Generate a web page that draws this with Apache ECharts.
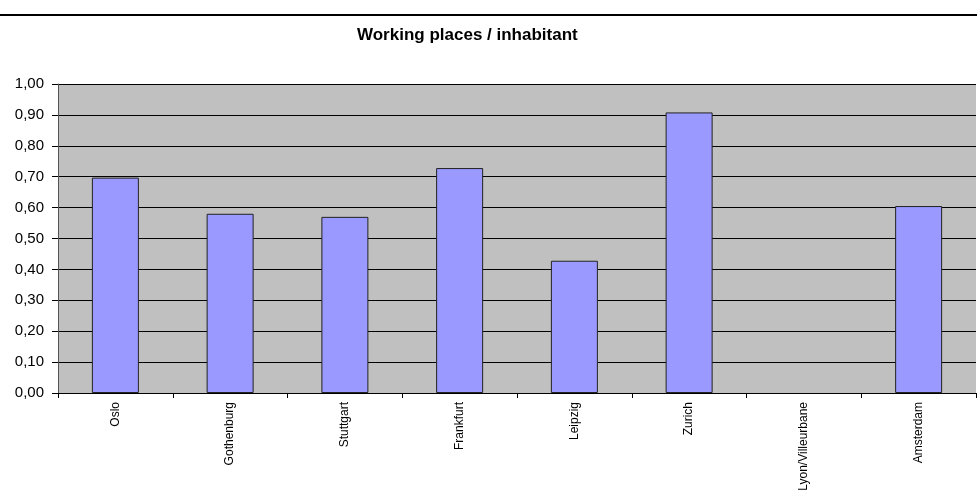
<!DOCTYPE html>
<html>
<head>
<meta charset="utf-8">
<script src="https://cdn.jsdelivr.net/npm/echarts@6/dist/echarts.min.js"></script>
<style>
  html, body { margin: 0; padding: 0; background: #fff; }
  #chart { width: 977px; height: 490px; }
</style>
</head>
<body>
<div id="chart"></div>
<script>
var cities = ['Oslo', 'Gothenburg', 'Stuttgart', 'Frankfurt', 'Leipzig', 'Zurich', 'Lyon/Villeurbane', 'Amsterdam'];
var placesPerInhabitant = [0.697, 0.58, 0.57, 0.728, 0.428, 0.908, null, 0.605];
var yTicks = [0, 0.1, 0.2, 0.3, 0.4, 0.5, 0.6, 0.7, 0.8, 0.9, 1.0];

var chart = echarts.init(document.getElementById('chart'));

// comma as decimal separator, like the original
function fmt(v) {
  return v.toFixed(2).replace('.', ',');
}

chart.setOption({
  animation: false,
  backgroundColor: '#fff',
  textStyle: { fontFamily: 'Liberation Sans, Arial, sans-serif' },
  title: {
    text: 'Working places / inhabitant',
    left: 352,
    top: 22,
    textStyle: { fontSize: 17, fontWeight: 'bold', color: '#000', fontFamily: 'Liberation Sans, Arial, sans-serif' }
  },
  graphic: [{
    type: 'line',
    shape: { x1: 0, y1: 15, x2: 977, y2: 15 },
    style: { stroke: '#000', lineWidth: 2 }
  }],
  grid: {
    left: 58,
    right: 1,
    top: 84,
    bottom: 97,
    outerBoundsMode: 'none',
    containLabel: false,
    show: true,
    backgroundColor: '#C0C0C0',
    borderWidth: 0
  },
  xAxis: {
    type: 'category',
    data: cities,
    boundaryGap: true,
    axisLine: { lineStyle: { color: '#000', width: 1 } },
    axisTick: { show: true, length: 5, inside: false, alignWithLabel: false, lineStyle: { color: '#000' } },
    axisLabel: {
      rotate: 90,
      interval: 0,
      margin: 9,
      fontSize: 12,
      color: '#000'
    },
    splitLine: { show: false }
  },
  yAxis: {
    type: 'value',
    min: yTicks[0],
    max: yTicks[yTicks.length - 1],
    interval: 0.1,
    axisLine: { show: true, lineStyle: { color: '#555', width: 1 } },
    axisTick: { show: true, length: 6, lineStyle: { color: '#000' } },
    axisLabel: {
      formatter: fmt,
      fontSize: 15,
      color: '#000',
      margin: 14
    },
    splitLine: { show: true, lineStyle: { color: '#000', width: 1 } }
  },
  series: [{
    type: 'bar',
    data: placesPerInhabitant,
    barWidth: 47,
    itemStyle: { color: '#9999FF', borderColor: '#222', borderWidth: 1 }
  }]
});
</script>
</body>
</html>
